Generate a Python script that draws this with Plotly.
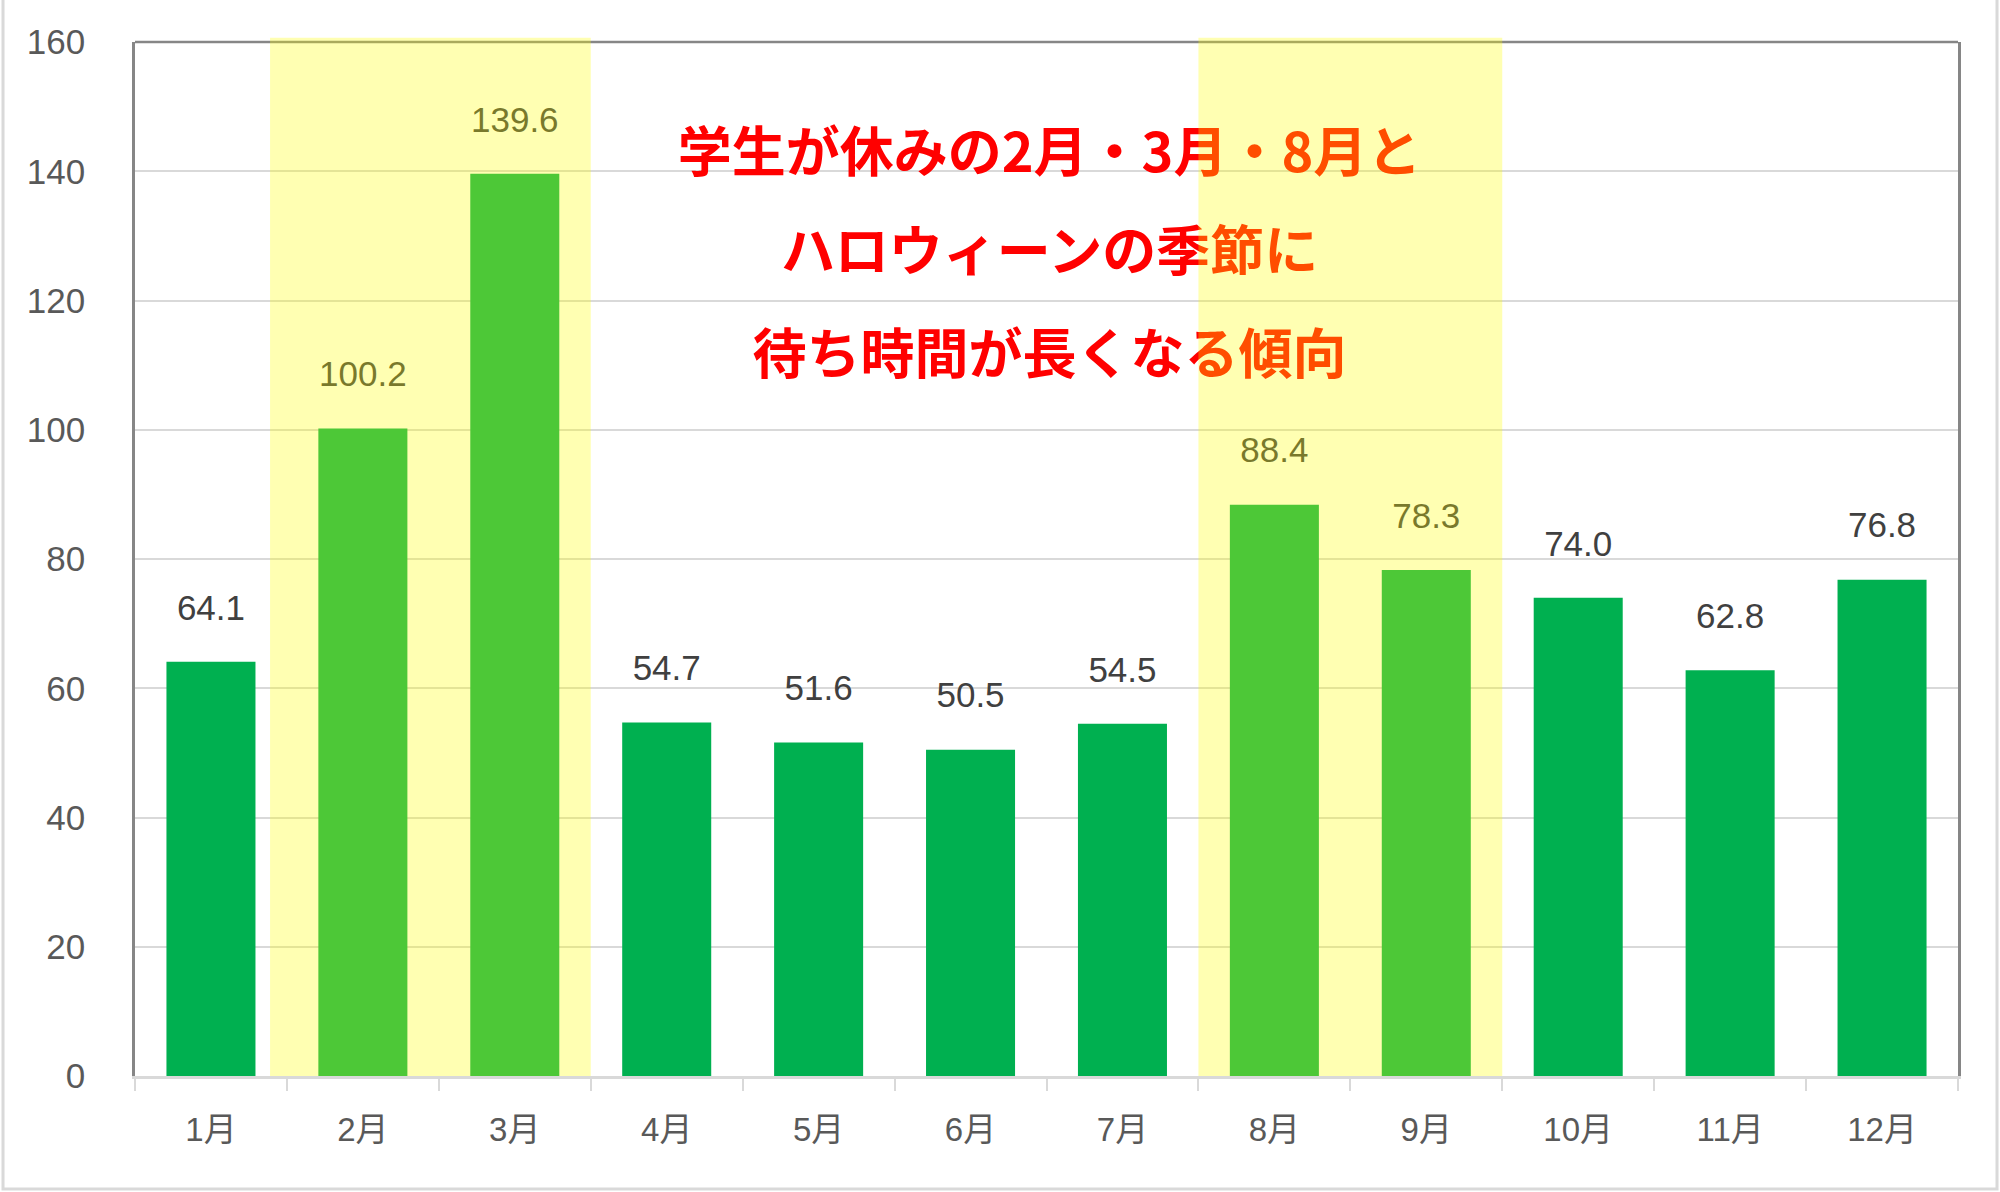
import plotly.graph_objects as go

months = ['1月', '2月', '3月', '4月', '5月', '6月', '7月', '8月', '9月', '10月', '11月', '12月']
wait_min = [64.1, 100.2, 139.6, 54.7, 51.6, 50.5, 54.5, 88.4, 78.3, 74.0, 62.8, 76.8]
note_lines = ['学生が休みの2月・3月・8月と', 'ハロウィーンの季節に', '待ち時間が長くなる傾向']
y_ticks = [0, 20, 40, 60, 80, 100, 120, 140, 160]

x = list(range(len(months)))
num_font = 'Liberation Sans, Noto Sans CJK JP'

fig = go.Figure()

fig.add_trace(go.Bar(
    x=x, y=wait_min, width=0.586,
    marker=dict(color='#00B050', line=dict(width=0)),
    hoverinfo='skip',
))

# value labels: invisible markers push the text up off the bar tops
fig.add_trace(go.Scatter(
    x=x, y=wait_min, mode='markers+text',
    marker=dict(size=52, opacity=0),
    text=[f'{v:.1f}' for v in wait_min], textposition='top center',
    textfont=dict(family=num_font, size=35, color='#404040'),
    cliponaxis=False, hoverinfo='skip',
))

# red comment text, as a trace so the yellow bands sit over it
fig.add_trace(go.Scatter(
    x=[5.52, 5.52, 5.52], y=[142.0, 126.6, 110.7],
    mode='text', text=['<b>' + t + '</b>' for t in note_lines],
    textfont=dict(family='Noto Sans CJK JP', size=54, color='#FF0000'),
    hoverinfo='skip',
))

shapes = []
# plot area border (left/right come from the y axis line)
shapes.append(dict(type='line', xref='paper', yref='paper', x0=0, x1=1, y0=1, y1=1,
                   line=dict(color='#868686', width=2.5), layer='below'))
# outer frame of the picture
shapes.append(dict(type='rect', xref='paper', yref='paper', x0=-0.0724, x1=1.0214,
                   y0=-0.1093, y1=1.06, line=dict(color='#D9D9D9', width=3)))
# highlighted seasons
for x0, x1 in [(0.389, 2.5), (6.5, 8.5)]:
    shapes.append(dict(type='rect', xref='x', yref='paper', x0=x0, x1=x1, y0=0, y1=1.004,
                       fillcolor='rgb(255,255,0)', opacity=0.3, line=dict(width=0),
                       layer='above'))

fig.update_layout(
    width=2000, height=1192,
    margin=dict(l=135, r=42, t=42, b=116),
    paper_bgcolor='white', plot_bgcolor='white',
    showlegend=False,
    shapes=shapes,
    font=dict(family=num_font, size=35, color='#595959'),
)
fig.update_xaxes(
    range=[-0.5, 11.5], tickvals=x, ticktext=months,
    tickfont=dict(size=33),
    showgrid=False, zeroline=False, ticks='',
    showline=True, linecolor='#D9D9D9', linewidth=3,
    ticklabelstandoff=22,
    minor=dict(tickvals=[i - 0.5 for i in range(len(months) + 1)], ticks='outside',
               ticklen=12, tickwidth=2, tickcolor='#D9D9D9', showgrid=False),
)
fig.update_yaxes(
    range=[0, 160], tickvals=y_ticks,
    showgrid=True, gridcolor='#D9D9D9', gridwidth=2, zeroline=False,
    showline=True, linecolor='#868686', linewidth=2.5, mirror=True,
    ticks='', ticklabelstandoff=40,
)

fig.write_html('out.html', config={'displayModeBar': False},
               post_script="document.body.style.margin='0';")
